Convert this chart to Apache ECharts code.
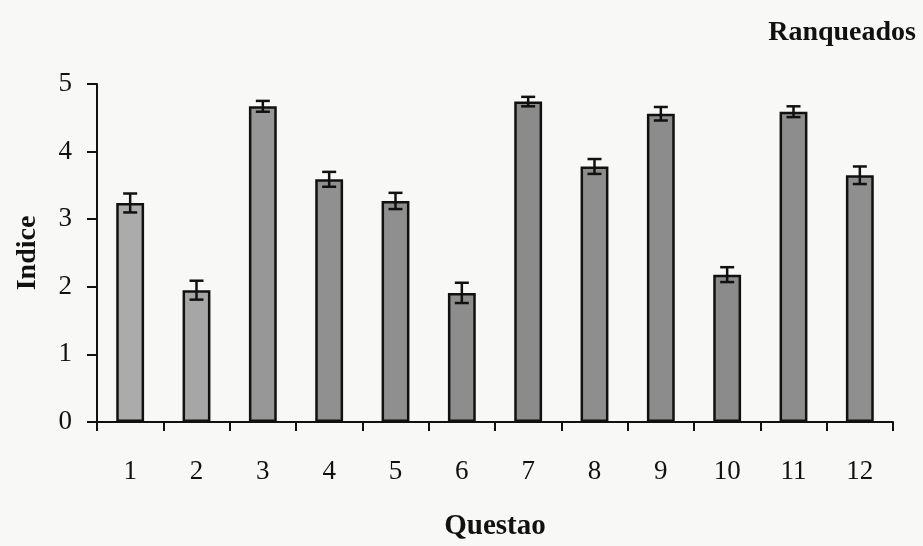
<!DOCTYPE html>
<html>
<head>
<meta charset="utf-8">
<script src="https://cdn.jsdelivr.net/npm/echarts@6/dist/echarts.min.js"></script>
<style>
html,body{margin:0;padding:0;background:#f8f8f6;}
#c{width:923px;height:546px;}
</style>
</head>
<body>
<div id="c"></div>
<script>
const categories = ['1','2','3','4','5','6','7','8','9','10','11','12'];
const values = [3.24, 1.95, 4.67, 3.59, 3.27, 1.91, 4.74, 3.78, 4.56, 2.18, 4.59, 3.65];
const errors = [0.14, 0.14, 0.08, 0.11, 0.12, 0.15, 0.07, 0.11, 0.10, 0.11, 0.08, 0.13];
const yTicks = [0, 1, 2, 3, 4, 5];

const shades = ['#ababab','#a6a6a6','#979797','#909090','#8f8f8f','#8d8d8d','#8b8b8b','#8e8e8e','#8c8c8c','#8b8b8b','#8d8d8d','#8f8f8f'];
const font = '"Liberation Serif", "Times New Roman", serif';

const chart = echarts.init(document.getElementById('c'));
chart.setOption({
  backgroundColor: '#f8f8f6',
  animation: false,
  title: {
    text: 'Ranqueados', right: 2, top: 14,
    textStyle: {fontFamily: font, fontWeight: 'bold', fontSize: 28, color: '#111'}
  },
  grid: {left: 97, right: 30, top: 84, bottom: 121},
  xAxis: {
    type: 'category', data: categories,
    name: 'Questao', nameLocation: 'middle', nameGap: 90,
    nameTextStyle: {fontFamily: font, fontWeight: 'bold', fontSize: 29, color: '#111'},
    axisLine: {lineStyle: {color: '#111', width: 2}},
    axisTick: {show: true, length: 9, lineStyle: {color: '#111', width: 2}},
    axisLabel: {fontFamily: font, fontSize: 27, color: '#111', margin: 36}
  },
  yAxis: {
    type: 'value', min: 0, max: 5, interval: 1,
    name: 'Indice', nameLocation: 'middle', nameGap: 55, nameRotate: 90,
    nameTextStyle: {fontFamily: font, fontWeight: 'bold', fontSize: 28, color: '#111'},
    axisLine: {show: true, lineStyle: {color: '#111', width: 2}},
    axisTick: {show: true, length: 10, lineStyle: {color: '#111', width: 2}},
    splitLine: {show: false},
    axisLabel: {fontFamily: font, fontSize: 27, color: '#111', margin: 25,
      formatter: v => yTicks.includes(v) ? String(v) : ''}
  },
  series: [
    {
      type: 'bar', barWidth: '42%',
      data: values.map((v, i) => ({value: v, itemStyle: {color: shades[i]}})),
      itemStyle: {borderColor: '#111', borderWidth: 2.5},
      z: 2
    },
    {
      type: 'custom',
      data: values.map((v, i) => [i, v - errors[i], v + errors[i]]),
      renderItem: function (params, api) {
        const x = api.value(0);
        const lo = api.coord([x, api.value(1)]);
        const hi = api.coord([x, api.value(2)]);
        const hw = 7;
        const st = {stroke: '#111', lineWidth: 2.5};
        return {
          type: 'group',
          children: [
            {type: 'line', shape: {x1: lo[0], y1: lo[1], x2: hi[0], y2: hi[1]}, style: st},
            {type: 'line', shape: {x1: hi[0]-hw, y1: hi[1], x2: hi[0]+hw, y2: hi[1]}, style: st},
            {type: 'line', shape: {x1: lo[0]-hw, y1: lo[1], x2: lo[0]+hw, y2: lo[1]}, style: st}
          ]
        };
      },
      z: 3
    }
  ]
});
</script>
</body>
</html>
